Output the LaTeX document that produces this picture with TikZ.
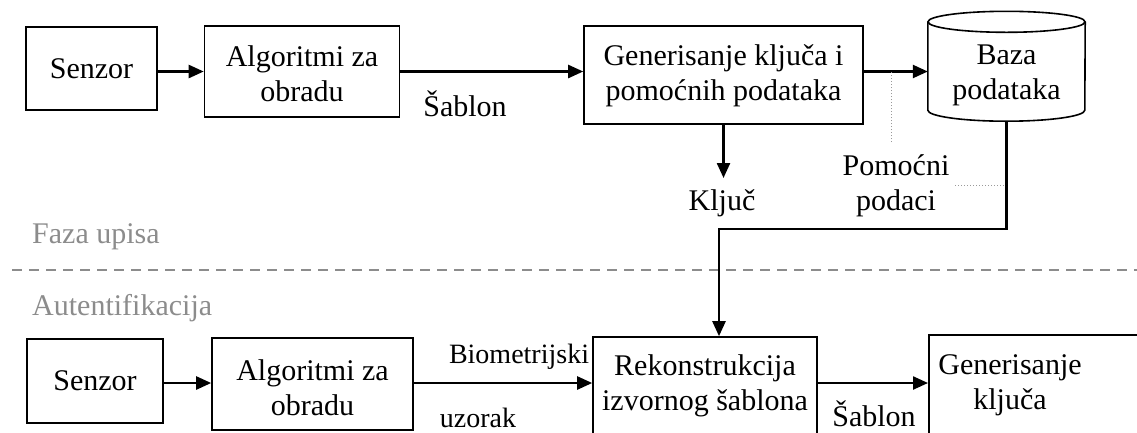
\documentclass[tikz,border=0pt]{standalone}
\usepackage{fontspec}
\setmainfont{Liberation Serif}
\usetikzlibrary{arrows.meta,calc}
\definecolor{phasegray}{HTML}{8C8C8C}
\definecolor{leadgray}{HTML}{9A9A9A}
\begin{document}
\begin{tikzpicture}[x=1pt,y=-1pt,
  every node/.style={font=\fontsize{30}{35}\selectfont, align=center},
  box/.style={draw, line width=1.6pt, inner sep=0pt},
  flow/.style={line width=2.4pt, -{Triangle[length=15pt,width=13pt]}},
  leader/.style={draw=leadgray, line width=1pt, dotted},
  phase/.style={text=phasegray, anchor=west, inner sep=0pt},
  edgelabel/.style={font=\fontsize{28}{32}\selectfont}]

\useasboundingbox (0,0) rectangle (1137,432);
\clip (0,0) rectangle (1137,432);

% ---- enrolment row ----
\node[box, minimum width=131pt, minimum height=83pt] (sen1) at (91.5,68.5) {Senzor};
\node[box, minimum width=195pt, minimum height=91pt] (alg1) at (302,71.5) {};
\node (alg1text) at (302,74) {Algoritmi za\\obradu};
\node[box, minimum width=279pt, minimum height=98pt] (gen1) at (723.5,75) {};
\node (gen1text) at (723.5,76) {Generisanje ključa i\\pomoćnih podataka};

% database cylinder: body node plus drawn outline
\node[minimum width=157pt, minimum height=88pt, inner sep=0pt] (db) at (1006.5,66) {};
\draw[line width=1.6pt] (db.north west) -- (db.south west)
  arc[start angle=180, end angle=360, x radius=78.5pt, y radius=11pt] -- (db.north east);
\draw[line width=1.6pt] (db.north) ellipse[x radius=78.5pt, y radius=10.5pt];
\node (dbtext) at (1006.5,75) {Baza\\podataka};
\coordinate (dbbot) at ([yshift=-11pt]db.south);

\draw[flow] (sen1.east |- alg1.west) -- (alg1.west);
\draw[flow] (alg1.east) -- (gen1.west |- alg1.east);
\draw[flow] (gen1.east |- alg1.east) -- (db.west |- alg1.east);
\node (sab1) at (465,104) {Šablon};

% key output
\coordinate (kljtip) at (722,178);
\draw[flow] (gen1.south) -- (gen1.south |- kljtip);
\node (klj) at (722,203) {Ključ};

% helper data label with dotted leaders
\node (pom) at (896,186) {Pomoćni\\podaci};
\coordinate (pomup) at (891,142);
\coordinate (pomright) at (955,185);
\draw[leader] (pomup) -- (pomup |- alg1.east);
\draw[leader] (pomright) -- (pomright -| dbbot);

% phase separator
\node[phase] (faza) at (32,237) {Faza upisa};
\node[phase] (auth) at (32,308) {Autentifikacija};
\coordinate (sepL) at (12,270);
\coordinate (sepR) at (1137,270);
\draw[draw=phasegray, line width=1.5pt, dash pattern=on 10pt off 7pt] (sepL) -- (sepR);

% ---- authentication row ----
\node[box, minimum width=136pt, minimum height=84pt] (sen2) at (95,381) {Senzor};
\node[box, minimum width=201pt, minimum height=92pt] (alg2) at (312.5,384) {};
\node (alg2text) at (312.5,388) {Algoritmi za\\obradu};
\node[box, minimum width=224pt, minimum height=106pt] (rek) at (705,390) {};
\node (rektext) at (705,386) {Rekonstrukcija\\izvornog šablona};
\node[box, minimum width=240pt, minimum height=120pt, anchor=north west] (gk) at (928,334) {};
\node (gktext) at (1010,385) {Generisanje\\ključa};

\coordinate (row2) at (0,383);
\draw[flow] (sen2.east |- row2) -- (alg2.west |- row2);
\draw[flow] (alg2.east |- row2) -- (rek.west |- row2);
\draw[flow] (rek.east |- row2) -- (gk.west |- row2);
\node[edgelabel] (bio) at (519,357) {Biometrijski};
\node[edgelabel] (uzo) at (478,418) {uzorak};
\node (sab2) at (874,414) {Šablon};

% helper data fed into reconstruction
\coordinate (turn) at (719,229);
\draw[flow] (dbbot) |- (turn) -- (turn |- rek.north);
\end{tikzpicture}
\end{document}
